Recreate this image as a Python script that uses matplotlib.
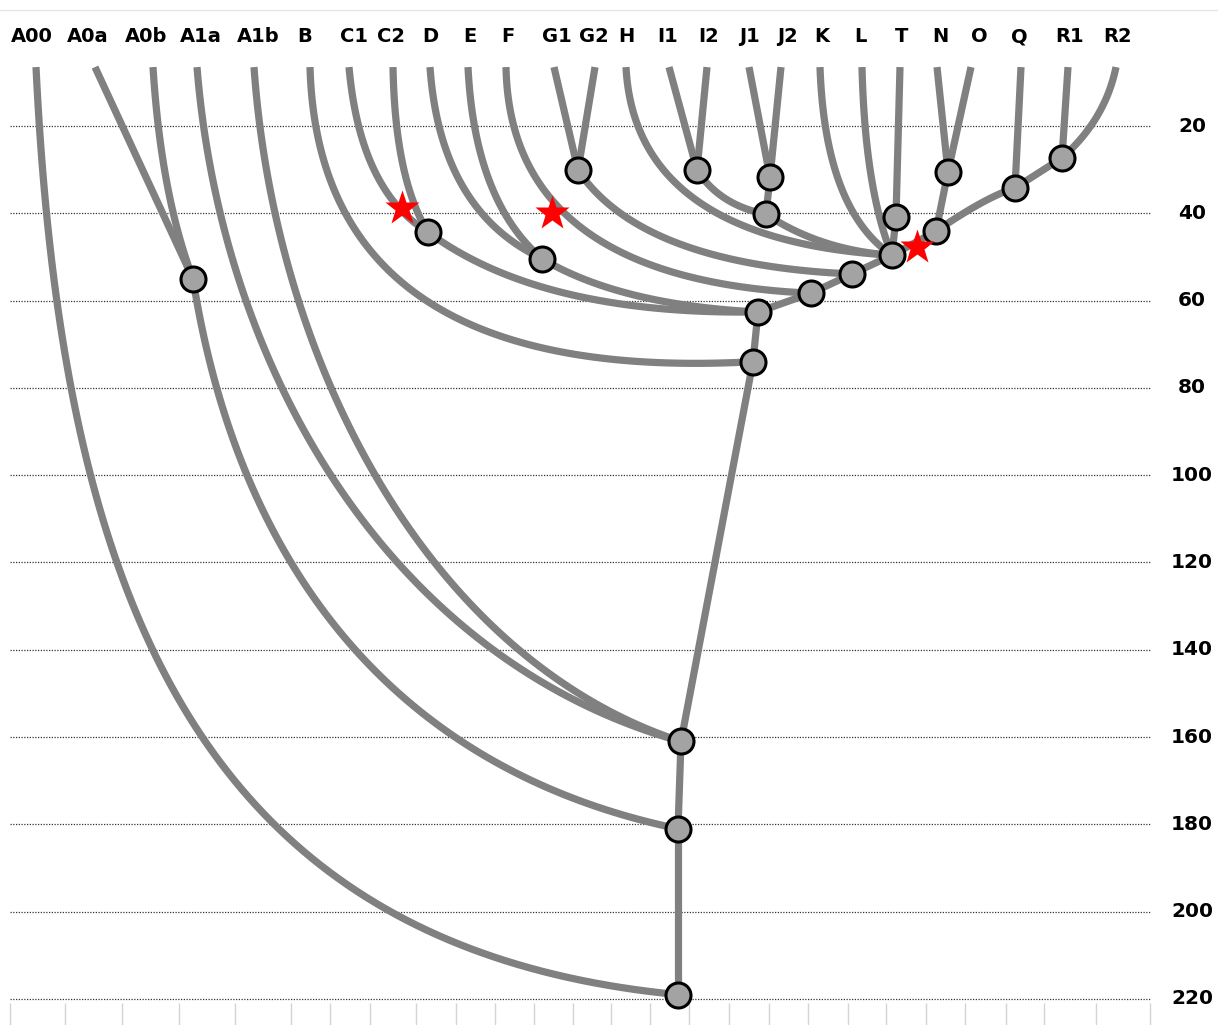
import numpy as np
import matplotlib.pyplot as plt

# haplogroup tips (top row)
tips = ['A00', 'A0a', 'A0b', 'A1a', 'A1b', 'B', 'C1', 'C2', 'D', 'E', 'F', 'G1', 'G2', 'H',
        'I1', 'I2', 'J1', 'J2', 'K', 'L', 'T', 'N', 'O', 'Q', 'R1', 'R2']
tip_x = [36, 95, 153, 197, 254, 310, 349, 393, 430, 468, 506, 554, 595, 626,
         669, 707, 749, 781, 820, 862, 900, 937, 971, 1021, 1068, 1116]
label_x = [32, 88, 146, 201, 258, 305, 354, 391, 430, 470, 508, 557, 594, 626,
           668, 709, 749, 787, 822, 860, 902, 940, 979, 1019, 1070, 1118]
tip_age = 6.5

# internal nodes: name, x, age (thousand years)
node_names = ['root', 'n180', 'n160', 'A0', 'BT', 'CT', 'C', 'DE', 'CF', 'Fn', 'G',
              'IJK', 'IJ', 'I', 'J', 'LT', 'K2', 'NO', 'P', 'R']
node_x = [678, 678, 681, 193, 753, 758, 428, 542, 811, 852, 578,
          892, 766, 697, 770, 896, 936, 948, 1015, 1062]
node_age = [219, 181, 161, 55, 74, 62.6, 44.3, 50.4, 58.3, 53.9, 30.1,
            49.6, 40.2, 30.1, 31.7, 40.8, 44.1, 30.5, 34.2, 27.3]

# child -> parent
edges = [('A00', 'root'), ('n180', 'root'), ('A0', 'n180'), ('A0a', 'A0'), ('A0b', 'A0'),
         ('n160', 'n180'), ('A1a', 'n160'), ('A1b', 'n160'), ('BT', 'n160'),
         ('B', 'BT'), ('CT', 'BT'), ('C', 'CT'), ('C1', 'C'), ('C2', 'C'),
         ('DE', 'CT'), ('D', 'DE'), ('E', 'DE'), ('CF', 'CT'), ('F', 'CF'),
         ('Fn', 'CF'), ('G', 'Fn'), ('G1', 'G'), ('G2', 'G'), ('IJK', 'Fn'),
         ('H', 'IJK'), ('IJ', 'IJK'), ('I', 'IJ'), ('J', 'IJ'), ('I1', 'I'), ('I2', 'I'),
         ('J1', 'J'), ('J2', 'J'), ('K', 'IJK'), ('L', 'IJK'), ('LT', 'IJK'), ('T', 'LT'),
         ('K2', 'IJK'), ('NO', 'K2'), ('N', 'NO'), ('O', 'NO'), ('P', 'K2'),
         ('Q', 'P'), ('R', 'P'), ('R1', 'R'), ('R2', 'R')]

# red stars (x, age)
star_x = [402, 552, 917]
star_age = [38.8, 39.9, 47.7]

grid_ages = np.arange(20, 221, 20)
col_bounds = [10, 65, 122, 179, 235, 291, 330, 370, 416, 456, 495, 534, 573, 611,
              650, 689, 729, 769, 808, 848, 886, 926, 965, 1006, 1044, 1096, 1150]

# curve bend per edge: (fx, fy) quadratic control, or (f1x, f1y, f2x, f2y) cubic controls
bend = {'A00': (0.04, 0.57, 0.25, 0.95), 'A0': (0.08, 0.45, 0.35, 0.88),
        'A1a': (0.05, 0.45, 0.4, 0.88), 'A1b': (0.05, 0.45, 0.42, 0.88),
        'B': (0.02, 1.08), 'C1': (0.14, 0.75), 'C2': (0.06, 0.68), 'C': (0.34, 1.04),
        'D': (0.09, 0.75), 'E': (0.09, 0.7), 'DE': (0.36, 0.87), 'F': (0.013, 0.94),
        'G': (0.23, 0.91), 'H': (0.034, 0.92), 'I': (0.33, 0.8), 'IJ': (0.43, 0.88),
        'K': (0.07, 0.76), 'L': (0.1, 0.65), 'P': (0.36, 0.2), 'R2': (0.2, 0.58),
        'A0b': (0.2, 0.6)}

pos = {n: (x, tip_age) for n, x in zip(tips, tip_x)}
pos.update({n: (x, a) for n, x, a in zip(node_names, node_x, node_age)})

fig = plt.figure(figsize=(12.18, 10.25), dpi=100)
ax = fig.add_axes([0, 0, 1, 1])
ax.set_xlim(0, 1218)
ax.set_ylim(225.96, -8.87)
ax.axis('off')

ax.hlines(grid_ages, 10, 1150, colors='#333333', linestyles=(0, (1, 1.2)), lw=0.9, zorder=1)
ax.vlines(col_bounds, 220.9, 226, colors='#d4d4d4', lw=1, zorder=1)
ax.axhline(-6.5, color='#e6e6e6', lw=1)

t = np.linspace(0, 1, 100)
for child, parent in edges:
    x0, y0 = pos[child]
    x1, y1 = pos[parent]
    b = bend.get(child, (0.5, 0.5))
    if len(b) == 2:
        b = (2 / 3 * b[0], 2 / 3 * b[1], 1 / 3 + 2 / 3 * b[0], 1 / 3 + 2 / 3 * b[1])
    c1x, c1y = x0 + b[0] * (x1 - x0), y0 + b[1] * (y1 - y0)
    c2x, c2y = x0 + b[2] * (x1 - x0), y0 + b[3] * (y1 - y0)
    xs = (1 - t) ** 3 * x0 + 3 * t * (1 - t) ** 2 * c1x + 3 * t ** 2 * (1 - t) * c2x + t ** 3 * x1
    ys = (1 - t) ** 3 * y0 + 3 * t * (1 - t) ** 2 * c1y + 3 * t ** 2 * (1 - t) * c2y + t ** 3 * y1
    ax.plot(xs, ys, color='#808080', lw=5.2, solid_capstyle='butt', zorder=2)

ax.plot(node_x, node_age, 'o', ms=18, mfc='#a3a3a3', mec='black', mew=2.2, zorder=3)
ax.plot(star_x, star_age, '*', ms=26, color='#ff0000', mec='none', zorder=4)

for name, x in zip(tips, label_x):
    ax.text(x, 1 - 37 / 1025, name, transform=ax.get_xaxis_transform(), ha='center',
            va='center', fontsize=14, fontweight='bold', family='DejaVu Sans')
for a in grid_ages:
    ax.text(1192, a, str(a), ha='center', va='center', fontsize=14.5, fontweight='bold')

fig.savefig('out.png', dpi=100)
